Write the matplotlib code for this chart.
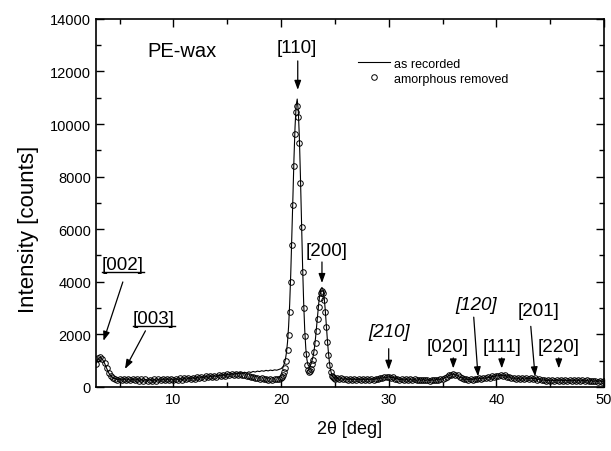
import numpy as np
import matplotlib
matplotlib.use("Agg")
import matplotlib.pyplot as plt
from matplotlib.ticker import MultipleLocator
from matplotlib.lines import Line2D

plt.rcParams['font.family'] = ['Liberation Sans', 'DejaVu Sans']

# 2-theta sampling (deg): 0.2 deg steps, 0.1 deg across the main reflections
two_theta = np.round(np.concatenate([
    np.arange(2.8, 20.0 + 1e-9, 0.2),
    np.arange(20.1, 25.0 + 1e-9, 0.1),
    np.arange(25.2, 50.0 + 1e-9, 0.2)]), 2)

# measured intensity (counts), 2.8 .. 20.0 deg
recorded_low = [
    880,
    1080, 1120, 1050, 900, 700,
    520, 400, 330, 310, 265,
    300, 250, 310, 255, 290,
    245, 295, 250, 290, 240,
    285, 238, 280, 232, 276,
    236, 282, 240, 286, 246,
    290, 248, 296, 254, 302,
    258, 308, 266, 318, 274,
    326, 284, 336, 296, 350,
    310, 364, 326, 380, 340,
    396, 356, 410, 372, 428,
    390, 446, 410, 466, 430,
    486, 448, 504, 468, 522,
    492, 540, 512, 556, 530,
    570, 546, 584, 562, 598,
    580, 612, 594, 626, 606,
    636, 618, 646, 632, 660,
    690]

# 20.1 .. 25.0 deg ([110] and [200] reflections)
recorded_peak = [
    730, 780, 880, 1040, 1300, 1700, 2300, 3150, 4300,
    5700, 7200, 8700, 9900, 10700, 10950, 10500, 9500, 8000, 6300,
    4600, 3200, 2150, 1450, 1040, 840, 770, 790, 880, 1040,
    1200, 1480, 1850, 2300, 2750, 3180, 3520, 3720, 3780, 3700,
    3420, 2950, 2380, 1800, 1300, 900, 640, 480, 395, 350,
    330]

# 25.2 .. 50.0 deg
recorded_high = [
    330, 290, 318, 282,
    312, 276, 306, 272, 300,
    268, 298, 264, 294, 262,
    292, 266, 298, 278, 310,
    296, 332, 330, 368, 358,
    385, 352, 360, 312, 310,
    268, 292, 256, 286, 252,
    282, 250, 280, 246, 278,
    244, 276, 242, 274, 240,
    272, 244, 278, 262, 298,
    292, 345, 372, 440, 455,
    490, 455, 440, 360, 345,
    285, 298, 265, 300, 275,
    314, 292, 328, 305, 345,
    322, 368, 345, 395, 378,
    428, 412, 450, 420, 432,
    372, 378, 322, 338, 294,
    320, 286, 318, 290, 325,
    300, 336, 308, 330, 278,
    292, 248, 268, 232, 256,
    226, 252, 230, 262, 238,
    266, 234, 258, 228, 256,
    222, 252, 220, 250, 218,
    248, 214, 244, 210, 240,
    206, 236, 202, 232, 200,
    228]

# amorphous halo subtracted from the pattern, starting at 15.0 deg
amorphous_start = 15.0
amorphous_halo = [
    0, 0, 5, 10, 20,
    35, 55, 80, 105, 130,
    160, 185, 210, 235, 255,
    275, 290, 305, 318, 328,
    336, 342, 348, 352, 350,
    345,
    340, 335, 330, 325, 320, 315, 310, 305, 300,
    295, 290, 285, 280, 260, 250, 245, 240, 235, 230,
    225, 220, 215, 210, 205, 200, 195, 190, 185, 180,
    175, 170, 165, 160, 155, 150, 145, 140, 135, 130,
    120, 110, 100, 90, 80, 70, 60, 50, 40, 30,
    20]

recorded = np.array(recorded_low + recorded_peak + recorded_high, dtype=float)
removed = recorded.copy()
i0 = int(np.argmin(np.abs(two_theta - amorphous_start)))
removed[i0:i0 + len(amorphous_halo)] -= np.array(amorphous_halo, dtype=float)

fig = plt.figure(figsize=(6.11, 4.52), dpi=100)
ax = fig.add_axes([0.157, 0.142, 0.8315, 0.814])

ax.plot(two_theta, removed, linestyle='none', marker='o', ms=4.0,
        mfc='none', mec='black', mew=0.7)
ax.plot(two_theta, recorded, '-', color='black', lw=0.8)

ax.set_xlim(2.8, 50)
ax.set_ylim(0, 14000)
ax.xaxis.set_major_locator(MultipleLocator(10))
ax.xaxis.set_minor_locator(MultipleLocator(5))
ax.yaxis.set_major_locator(MultipleLocator(2000))
ax.yaxis.set_minor_locator(MultipleLocator(1000))
ax.tick_params(which='both', direction='in', top=True, right=True,
               labelsize=10.5, width=1.0)
ax.tick_params(which='major', length=5.5)
ax.tick_params(which='minor', length=3.5)
for s in ax.spines.values():
    s.set_linewidth(1.2)

ax.set_xlabel('2\u03b8 [deg]', fontsize=13, labelpad=10)
ax.set_ylabel('Intensity [counts]', fontsize=16)
ax.yaxis.set_label_coords(-0.112, 0.43)

handles = [Line2D([], [], color='black', lw=0.8),
           Line2D([], [], linestyle='none', marker='o', ms=4.0,
                  mfc='none', mec='black', mew=0.7)]
ax.legend(handles, ['as recorded', 'amorphous removed'], loc='upper left',
          bbox_to_anchor=(0.515, 0.895), frameon=False, fontsize=9,
          borderpad=0, borderaxespad=0, handlelength=2.6,
          handletextpad=0.35, labelspacing=0.25)

ax.text(10.8, 12800, 'PE-wax', fontsize=14.5, ha='center', va='center')

arrow = dict(arrowstyle='-|>,head_length=0.55,head_width=0.2',
             color='black', lw=0.9, shrinkA=0, shrinkB=0)

# (label, text position, italic, arrow tail, arrow tip)
reflections = [
    ('[110]', (21.5, 12900), False, (21.55, 12400), (21.55, 11300)),
    ('[200]', (24.2, 5200), False, (23.8, 4750), (23.8, 3950)),
    ('[210]', (30.0, 2100), True, (30.0, 1450), (30.0, 650)),
    ('[020]', (35.5, 1550), False, (36.0, 1100), (36.0, 700)),
    ('[120]', (38.1, 3150), True, (37.9, 2650), (38.3, 400)),
    ('[111]', (40.5, 1550), False, (40.5, 1100), (40.5, 700)),
    ('[201]', (43.9, 2900), False, (43.2, 2300), (43.6, 400)),
    ('[220]', (45.8, 1550), False, (45.8, 1100), (45.8, 700)),
]
for label, pos, italic, tail, tip in reflections:
    ax.text(pos[0], pos[1], label, fontsize=13.5, ha='center', va='center',
            style='italic' if italic else 'normal')
    ax.annotate('', xy=tip, xytext=tail, arrowprops=arrow)

# low-angle reflections, underlined labels
underlined = [
    ('[002]', (3.35, 4640), (5.3, 3990), (3.5, 1750)),
    ('[003]', (6.25, 2590), (7.4, 2130), (5.5, 680)),
]
fig.canvas.draw()
inv = fig.transFigure.inverted()
for label, pos, tail, tip in underlined:
    t = ax.text(pos[0], pos[1], label, fontsize=13.5, ha='left', va='center')
    ax.annotate('', xy=tip, xytext=tail, arrowprops=arrow)
    fig.canvas.draw()
    bb = t.get_window_extent()
    (x0, y0), (x1, _) = inv.transform([(bb.x0, bb.y0 + 1.5), (bb.x1, bb.y0 + 1.5)])
    fig.add_artist(Line2D([x0, x1], [y0, y0], color='black', lw=1.0,
                          transform=fig.transFigure))

fig.savefig('out.png', dpi=100)
